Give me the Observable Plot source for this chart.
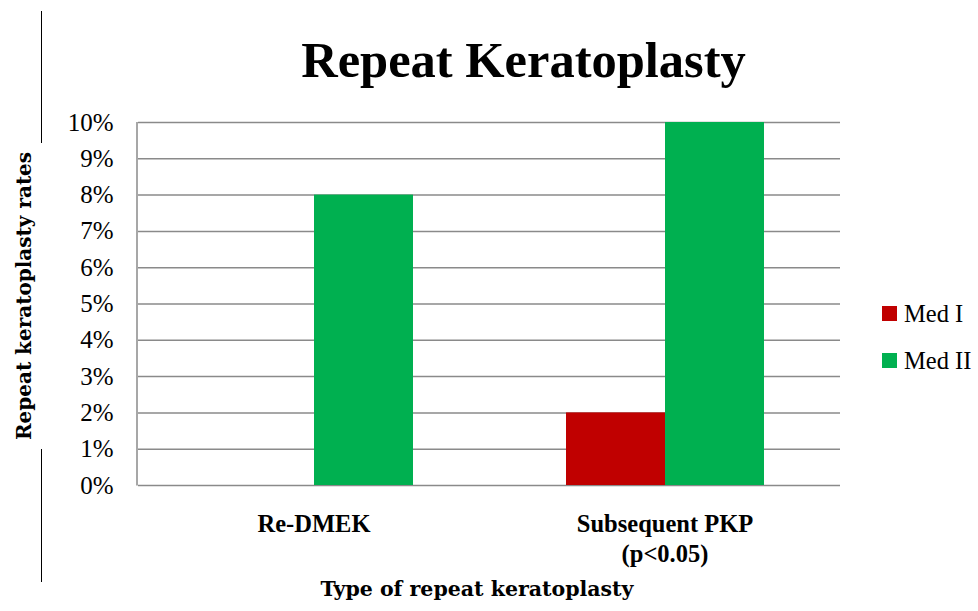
<!DOCTYPE html>
<html>
<head>
<meta charset="utf-8">
<script src="https://cdn.jsdelivr.net/npm/d3@7"></script>
<script src="https://cdn.jsdelivr.net/npm/@observablehq/plot@0.6"></script>
<style>
  body { margin: 0; background: #fff; }
  #wrap { position: relative; width: 978px; height: 611px; overflow: hidden; }
  #wrap > svg { position: absolute; left: 0; top: 0; }
  #overlay { pointer-events: none; }
</style>
</head>
<body>
<div id="wrap"></div>
<script>
// ---- data ----
const categories = ["Re-DMEK", "Subsequent PKP\n(p<0.05)"];
const series = ["Med I", "Med II"];
const medI = [0, 0.02];
const medII = [0.08, 0.10];
const yTicks = [0, 0.01, 0.02, 0.03, 0.04, 0.05, 0.06, 0.07, 0.08, 0.09, 0.10];
const colors = ["#C00000", "#00B050"];
const titleText = "Repeat Keratoplasty";
const yTitle = "Repeat keratoplasty rates";
const xTitle = "Type of repeat keratoplasty";

const data = categories.flatMap((c, i) => [
  {category: c, series: series[0], value: medI[i]},
  {category: c, series: series[1], value: medII[i]}
]);

const chart = Plot.plot({
  width: 978,
  height: 611,
  marginTop: 122,
  marginBottom: 126,
  marginLeft: 137,
  marginRight: 138,
  style: {fontFamily: "'Liberation Serif', serif", fontSize: "24px", color: "#000", background: "transparent"},
  fx: {domain: categories, padding: 0, label: null},
  x: {domain: series, paddingInner: 0, paddingOuter: 0.7575, axis: null},
  y: {domain: [0, 0.1], label: null},
  color: {domain: series, range: colors},
  marks: [
    Plot.gridY(yTicks, {stroke: "#8a8a8a", strokeOpacity: 1, strokeWidth: 1.5}),
    Plot.barY(data, {fx: "category", x: "series", y: "value", fill: "series"}),
    Plot.axisY(yTicks, {anchor: "left", tickSize: 0, tickPadding: 25, tickFormat: d3.format(".0%"), label: null, fontSize: 25}),
    Plot.axisFx({anchor: "bottom", tickSize: 0, tickPadding: 26, label: null, fontWeight: "bold", fontSize: 24.5, lineHeight: 1.2})
  ]
});

// left axis line derived from the chart's own scales
const fxs = chart.scale("fx"), ys = chart.scale("y");
const left = (fxs && fxs.range) ? fxs.range[0] : 137;
d3.select(chart).append("line")
  .attr("x1", left).attr("x2", left)
  .attr("y1", ys.apply(0) + 0.5).attr("y2", ys.apply(0.1))
  .attr("stroke", "#8a8a8a").attr("stroke-width", 1.5);

const wrap = document.getElementById("wrap");
wrap.appendChild(chart);

// overlay: title, axis titles, legend
const ov = d3.select(wrap).append("svg").attr("id", "overlay")
  .attr("width", 978).attr("height", 611);

ov.append("text").text(titleText)
  .attr("x", 523.5).attr("y", 77).attr("text-anchor", "middle")
  .attr("font-family", "'Liberation Serif', serif").attr("font-weight", "bold")
  .attr("font-size", 50.5).attr("fill", "#000");

ov.append("text").text(yTitle)
  .attr("transform", "translate(31,296) rotate(-90)").attr("text-anchor", "middle")
  .attr("font-family", "'DejaVu Serif', serif").attr("font-weight", "bold")
  .attr("font-size", 20).attr("fill", "#000");

ov.append("text").text(xTitle)
  .attr("x", 477).attr("y", 596).attr("text-anchor", "middle")
  .attr("font-family", "'DejaVu Serif', serif").attr("font-weight", "bold")
  .attr("font-size", 20.5).attr("fill", "#000");

const color = chart.scale("color");
const lg = ov.append("g");
series.forEach((s, i) => {
  const g = lg.append("g").attr("transform", `translate(882,${306 + i * 47})`);
  g.append("rect").attr("width", 15).attr("height", 15).attr("fill", color.apply(s));
  g.append("text").text(s).attr("x", 22).attr("y", 16)
    .attr("font-family", "'Liberation Serif', serif").attr("font-size", 24.5).attr("fill", "#000");
});

// decorative vertical rule at the far left of the reference image
ov.append("line").attr("x1", 41.5).attr("x2", 41.5).attr("y1", 11).attr("y2", 143).attr("stroke", "#000");
ov.append("line").attr("x1", 41.5).attr("x2", 41.5).attr("y1", 449).attr("y2", 582).attr("stroke", "#000");
</script>
</body>
</html>
